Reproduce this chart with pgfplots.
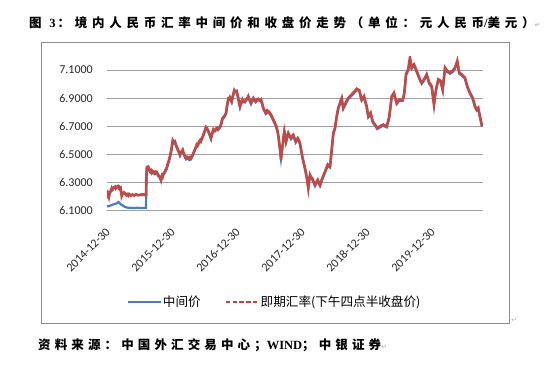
\documentclass[border=0pt]{standalone}
\usepackage{fontspec}
\usepackage{pgfplots}
\pgfplotsset{compat=1.18}
\setmainfont{Liberation Serif}
\newfontfamily\carlito{Carlito}
\newfontfamily\cjk{Noto Sans CJK SC}
\newfontfamily\cjkb[LetterSpace=38]{Noto Sans CJK SC}
\newfontfamily\cjks[LetterSpace=33]{Noto Sans CJK SC}
\newfontfamily\tnrb{Liberation Serif}
\newfontfamily\dejavu{DejaVu Sans}
\definecolor{blueC}{HTML}{4A7EBB}
\definecolor{redC}{HTML}{BE4B48}
\definecolor{legred}{HTML}{D43A36}
\definecolor{gridC}{HTML}{A0A0A0}
\definecolor{frameC}{HTML}{8C8C8C}
\newcommand{\pmark}{{\dejavu\fontsize{7}{8}\selectfont\color{gray!55}↵}}
\begin{document}
\begin{tikzpicture}
\path[use as bounding box] (0,0) rectangle (550pt,365pt);
\draw[frameC, line width=0.8pt] (41.7pt,42pt) rectangle (509pt,323pt);
\node[anchor=west, inner sep=0pt, font=\fontsize{12.5}{14}\selectfont\bfseries] at (29pt,342pt)
  {\cjkb 图 {\tnrb 3\,}：境内人民币汇率中间价和收盘价走势（单位：元人民币{\tnrb /}美元）\pmark};
\node[anchor=west, inner sep=0pt, font=\fontsize{12.5}{14}\selectfont\bfseries] at (38pt,20pt)
  {\cjks 资料来源：中国外汇交易中心；{\tnrb WIND}；中银证券\pmark};
\node[anchor=west, inner sep=0pt] at (511pt,45pt) {\pmark};
\begin{axis}[
  at={(107pt,155pt)}, anchor=south west,
  width=376pt, height=154pt, scale only axis,
  xmin=0, xmax=5.785, ymin=6.1, ymax=7.2,
  xtick={0,1,2,3,4,5},
  xticklabels={2014-12-30,2015-12-30,2016-12-30,2017-12-30,2018-12-30,2019-12-30},
  ytick={6.1,6.3,6.5,6.7,6.9,7.1},
  yticklabel style={/pgf/number format/fixed, /pgf/number format/fixed zerofill, /pgf/number format/precision=4, anchor=east, inner sep=0pt},
  /pgf/number format/assume math mode=true,
  tick label style={font=\carlito\fontsize{12}{14}\selectfont, text=black!85},
  xticklabel style={rotate=45, anchor=east, inner sep=0pt, xshift=1.5pt},
  xticklabel shift=21pt,
  yticklabel shift=14pt,
  axis line style={draw=none},
  tick style={draw=none},
  ymajorgrids, grid style={gridC, line width=0.8pt},
  legend image code/.code={\draw[#1] (0pt,0pt) -- (33pt,0pt);},
  legend style={at={(0.053,-0.597)}, anchor=west, draw=none, fill=none, inner sep=0pt,
    nodes={inner sep=1.2pt, font=\cjk\fontsize{12.6}{14}\selectfont},
    /tikz/every even column/.append style={column sep=23pt}},
  legend columns=2, legend cell align=left,
]
\addplot[blueC, line width=2.2pt, forget plot] coordinates {
(0.000,6.125) (0.015,6.128) (0.031,6.127) (0.046,6.131) (0.072,6.135) (0.092,6.139)
(0.123,6.143) (0.146,6.148) (0.160,6.152) (0.174,6.157) (0.192,6.151) (0.211,6.141)
(0.226,6.136) (0.246,6.130) (0.277,6.122) (0.300,6.118) (0.328,6.116) (0.354,6.117)
(0.380,6.114) (0.405,6.115) (0.431,6.114) (0.462,6.116) (0.508,6.114) (0.538,6.115)
(0.569,6.114) (0.600,6.116) (0.604,6.230) (0.608,6.331) (0.613,6.398) (0.635,6.402)
(0.662,6.370) (0.688,6.360) (0.713,6.367) (0.738,6.355) (0.765,6.364) (0.789,6.342)
(0.815,6.327) (0.831,6.307) (0.846,6.337) (0.866,6.350) (0.892,6.367) (0.918,6.392)
(0.943,6.432) (0.969,6.475) (0.989,6.522) (1.011,6.585) (1.031,6.577) (1.046,6.582)
(1.066,6.552) (1.082,6.535) (1.103,6.512) (1.123,6.487) (1.143,6.507) (1.165,6.522)
(1.189,6.487) (1.215,6.462) (1.242,6.470) (1.266,6.456) (1.292,6.462) (1.318,6.487)
(1.349,6.522) (1.380,6.559) (1.405,6.567) (1.431,6.590) (1.457,6.602) (1.482,6.630)
(1.503,6.657) (1.523,6.685) (1.543,6.672) (1.558,6.659) (1.580,6.632) (1.600,6.606)
(1.620,6.642) (1.635,6.666) (1.662,6.662) (1.688,6.678) (1.712,6.672) (1.738,6.685)
(1.758,6.712) (1.780,6.750) (1.805,6.762) (1.831,6.786) (1.866,6.886) (1.890,6.897)
(1.918,6.869) (1.958,6.948) (1.995,6.942) (2.020,6.892) (2.046,6.832) (2.082,6.882)
(2.123,6.869) (2.149,6.887) (2.174,6.905) (2.215,6.857) (2.251,6.892) (2.288,6.869)
(2.328,6.886) (2.369,6.882) (2.405,6.822) (2.442,6.786) (2.482,6.798) (2.523,6.774)
(2.558,6.738) (2.595,6.702) (2.626,6.654) (2.651,6.570) (2.677,6.465) (2.703,6.558)
(2.728,6.654) (2.754,6.582) (2.789,6.642) (2.831,6.606) (2.866,6.630) (2.903,6.582)
(2.934,6.606) (2.969,6.570) (3.005,6.475) (3.046,6.392) (3.072,6.331) (3.097,6.262)
(3.123,6.343) (3.158,6.319) (3.200,6.271) (3.242,6.307) (3.277,6.271) (3.312,6.319)
(3.354,6.367) (3.395,6.415) (3.431,6.403) (3.457,6.522) (3.482,6.642) (3.508,6.678)
(3.534,6.762) (3.558,6.822) (3.585,6.857) (3.611,6.892) (3.635,6.822) (3.672,6.857)
(3.712,6.892) (3.765,6.917) (3.789,6.929) (3.842,6.958) (3.882,6.948) (3.918,6.881)
(3.954,6.905) (3.995,6.834) (4.020,6.762) (4.057,6.786) (4.088,6.726) (4.123,6.702)
(4.158,6.678) (4.200,6.690) (4.251,6.702) (4.303,6.690) (4.343,6.762) (4.380,6.905)
(4.415,6.929) (4.457,6.857) (4.497,6.881) (4.549,6.881) (4.574,6.929) (4.600,7.061)
(4.635,7.097) (4.662,7.170) (4.688,7.109) (4.723,7.132) (4.765,7.085) (4.805,7.037)
(4.842,7.001) (4.877,7.025) (4.918,7.061) (4.958,7.001) (4.995,6.977) (5.031,6.855)
(5.062,6.953) (5.097,7.025) (5.134,7.013) (5.165,6.953) (5.200,7.109) (5.235,7.085)
(5.277,7.073) (5.318,7.085) (5.354,7.109) (5.389,7.157) (5.420,7.073) (5.457,7.061)
(5.508,7.037) (5.543,6.977) (5.585,6.929) (5.626,6.893) (5.662,6.834) (5.688,6.810)
(5.712,6.822) (5.738,6.762) (5.765,6.702) (5.778,6.695)
};
\addplot[redC, line width=2.6pt, forget plot] coordinates {
(0.000,6.215) (0.008,6.222) (0.015,6.205) (0.023,6.212) (0.031,6.196) (0.038,6.214)
(0.046,6.225) (0.059,6.238) (0.072,6.255) (0.082,6.243) (0.092,6.248) (0.108,6.262)
(0.123,6.267) (0.135,6.255) (0.146,6.262) (0.160,6.270) (0.174,6.272) (0.183,6.258)
(0.192,6.262) (0.200,6.250) (0.211,6.255) (0.219,6.228) (0.226,6.200) (0.236,6.212)
(0.246,6.215) (0.262,6.226) (0.277,6.222) (0.289,6.210) (0.300,6.205) (0.314,6.212)
(0.328,6.203) (0.341,6.214) (0.354,6.210) (0.367,6.202) (0.380,6.205) (0.392,6.211)
(0.405,6.208) (0.418,6.203) (0.431,6.206) (0.446,6.212) (0.462,6.210) (0.485,6.205)
(0.508,6.208) (0.523,6.211) (0.538,6.207) (0.554,6.212) (0.569,6.210) (0.585,6.206)
(0.600,6.208) (0.605,6.320) (0.611,6.390) (0.615,6.406) (0.635,6.410) (0.650,6.392)
(0.662,6.378) (0.675,6.384) (0.688,6.368) (0.700,6.380) (0.713,6.375) (0.725,6.362)
(0.738,6.363) (0.750,6.375) (0.765,6.372) (0.777,6.358) (0.789,6.350) (0.802,6.342)
(0.815,6.335) (0.831,6.315) (0.846,6.345) (0.856,6.338) (0.866,6.358) (0.880,6.368)
(0.892,6.375) (0.905,6.390) (0.918,6.400) (0.930,6.425) (0.943,6.440) (0.956,6.462)
(0.969,6.483) (0.989,6.530) (1.000,6.560) (1.011,6.598) (1.021,6.590) (1.031,6.585)
(1.046,6.590) (1.056,6.572) (1.066,6.560) (1.082,6.543) (1.092,6.528) (1.103,6.520)
(1.113,6.508) (1.123,6.495) (1.133,6.508) (1.143,6.515) (1.155,6.522) (1.165,6.530)
(1.177,6.510) (1.189,6.495) (1.202,6.482) (1.215,6.470) (1.228,6.480) (1.242,6.478)
(1.254,6.468) (1.266,6.464) (1.279,6.476) (1.292,6.470) (1.305,6.485) (1.318,6.495)
(1.334,6.512) (1.349,6.530) (1.365,6.545) (1.380,6.567) (1.393,6.560) (1.405,6.575)
(1.418,6.590) (1.431,6.598) (1.444,6.590) (1.457,6.610) (1.470,6.622) (1.482,6.638)
(1.492,6.650) (1.503,6.665) (1.513,6.680) (1.523,6.693) (1.533,6.688) (1.543,6.680)
(1.558,6.667) (1.569,6.652) (1.580,6.640) (1.590,6.628) (1.600,6.614) (1.610,6.635)
(1.620,6.650) (1.635,6.674) (1.648,6.664) (1.662,6.670) (1.675,6.680) (1.688,6.686)
(1.700,6.675) (1.712,6.680) (1.725,6.690) (1.738,6.693) (1.748,6.705) (1.758,6.720)
(1.770,6.745) (1.780,6.758) (1.793,6.765) (1.805,6.770) (1.818,6.780) (1.831,6.794)
(1.848,6.850) (1.866,6.894) (1.877,6.890) (1.890,6.905) (1.905,6.890) (1.918,6.877)
(1.938,6.920) (1.958,6.956) (1.975,6.945) (1.995,6.950) (2.008,6.925) (2.020,6.900)
(2.033,6.865) (2.046,6.840) (2.064,6.870) (2.082,6.890) (2.100,6.872) (2.123,6.877)
(2.136,6.888) (2.149,6.895) (2.162,6.902) (2.174,6.913) (2.195,6.885) (2.215,6.865)
(2.233,6.885) (2.251,6.900) (2.270,6.885) (2.288,6.877) (2.308,6.890) (2.328,6.894)
(2.348,6.882) (2.369,6.890) (2.387,6.862) (2.405,6.830) (2.424,6.808) (2.442,6.794)
(2.462,6.812) (2.482,6.806) (2.503,6.795) (2.523,6.782) (2.540,6.765) (2.558,6.746)
(2.577,6.728) (2.595,6.710) (2.610,6.690) (2.626,6.662) (2.640,6.620) (2.651,6.578)
(2.665,6.520) (2.677,6.459) (2.690,6.520) (2.703,6.566) (2.716,6.625) (2.728,6.662)
(2.741,6.628) (2.754,6.590) (2.771,6.625) (2.789,6.650) (2.810,6.628) (2.831,6.614)
(2.849,6.630) (2.866,6.638) (2.885,6.612) (2.903,6.590) (2.918,6.605) (2.934,6.614)
(2.952,6.598) (2.969,6.578) (2.987,6.530) (3.005,6.483) (3.025,6.440) (3.046,6.400)
(3.059,6.370) (3.072,6.339) (3.085,6.295) (3.097,6.255) (3.110,6.305) (3.123,6.351)
(3.140,6.335) (3.158,6.327) (3.180,6.300) (3.200,6.279) (3.221,6.298) (3.242,6.315)
(3.260,6.292) (3.277,6.279) (3.295,6.305) (3.312,6.327) (3.333,6.350) (3.354,6.375)
(3.375,6.400) (3.395,6.423) (3.413,6.412) (3.431,6.411) (3.444,6.470) (3.457,6.530)
(3.470,6.590) (3.482,6.650) (3.495,6.670) (3.508,6.686) (3.521,6.730) (3.534,6.770)
(3.546,6.800) (3.558,6.830) (3.572,6.848) (3.585,6.865) (3.598,6.885) (3.611,6.900)
(3.623,6.862) (3.635,6.830) (3.654,6.848) (3.672,6.865) (3.692,6.885) (3.712,6.900)
(3.738,6.912) (3.765,6.925) (3.777,6.932) (3.789,6.937) (3.815,6.950) (3.842,6.966)
(3.862,6.960) (3.882,6.956) (3.900,6.920) (3.918,6.889) (3.936,6.900) (3.954,6.913)
(3.975,6.875) (3.995,6.842) (4.008,6.805) (4.020,6.770) (4.038,6.780) (4.057,6.794)
(4.072,6.762) (4.088,6.734) (4.105,6.722) (4.123,6.710) (4.140,6.698) (4.158,6.686)
(4.180,6.692) (4.200,6.698) (4.225,6.705) (4.251,6.710) (4.277,6.702) (4.303,6.698)
(4.323,6.730) (4.343,6.770) (4.362,6.840) (4.380,6.913) (4.398,6.925) (4.415,6.937)
(4.436,6.900) (4.457,6.865) (4.477,6.878) (4.497,6.889) (4.523,6.882) (4.549,6.889)
(4.562,6.910) (4.574,6.937) (4.587,7.000) (4.600,7.069) (4.618,7.090) (4.635,7.105)
(4.648,7.150) (4.662,7.189) (4.675,7.150) (4.688,7.117) (4.705,7.128) (4.723,7.140)
(4.744,7.118) (4.765,7.093) (4.785,7.068) (4.805,7.045) (4.823,7.025) (4.842,7.009)
(4.860,7.020) (4.877,7.033) (4.898,7.050) (4.918,7.069) (4.938,7.040) (4.958,7.009)
(4.977,6.998) (4.995,6.985) (5.013,6.920) (5.031,6.853) (5.046,6.910) (5.062,6.961)
(5.080,7.000) (5.097,7.033) (5.115,7.028) (5.134,7.021) (5.150,6.990) (5.165,6.961)
(5.183,7.040) (5.200,7.117) (5.218,7.105) (5.235,7.093) (5.256,7.086) (5.277,7.081)
(5.298,7.088) (5.318,7.093) (5.336,7.105) (5.354,7.117) (5.372,7.140) (5.389,7.165)
(5.405,7.120) (5.420,7.081) (5.438,7.075) (5.457,7.069) (5.482,7.058) (5.508,7.045)
(5.525,7.015) (5.543,6.985) (5.564,6.960) (5.585,6.937) (5.606,6.920) (5.626,6.901)
(5.644,6.872) (5.662,6.842) (5.675,6.830) (5.688,6.818) (5.700,6.824) (5.712,6.830)
(5.725,6.800) (5.738,6.770) (5.752,6.740) (5.765,6.710) (5.778,6.700)
};
\addlegendimage{blueC, line width=1.6pt}
\addlegendentry{中间价}
\addlegendimage{legred, line width=1.6pt, dash pattern=on 4.4pt off 2.4pt}
\addlegendentry{即期汇率(下午四点半收盘价)}
\end{axis}
\end{tikzpicture}
\end{document}
